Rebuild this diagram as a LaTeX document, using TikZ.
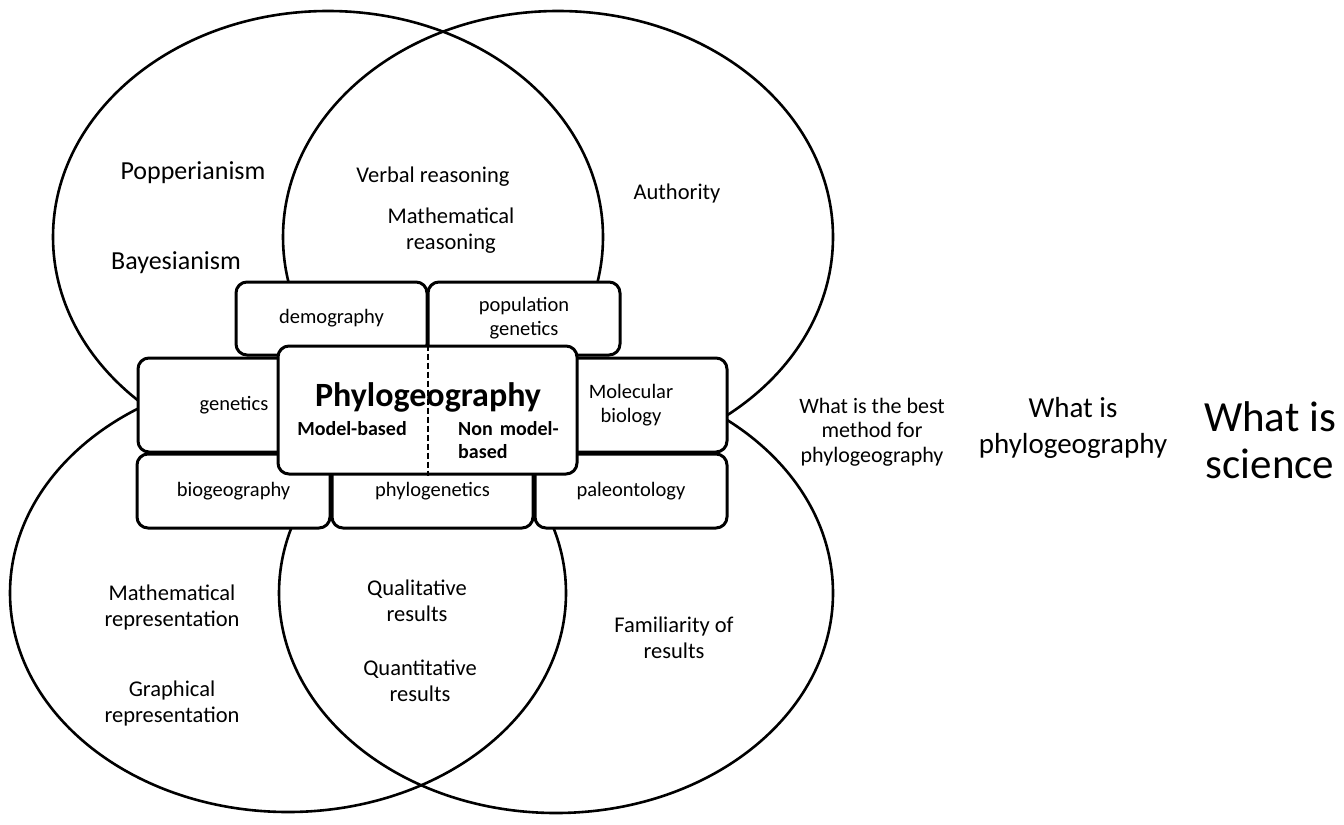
\documentclass[tikz,border=0pt]{standalone}
\usepackage{fontspec}
\setmainfont{Carlito}
\newcommand\fsz[2]{\fontsize{#1bp}{#2bp}\selectfont}
\begin{document}
\begin{tikzpicture}[x=1bp,y=-1bp,
  ell/.style={line width=2.6bp},
  box/.style={draw, line width=3bp, rounded corners=11bp, fill=white, inner sep=0pt, align=center, font=\fsz{20.5}{24}},
  lbl/.style={inner sep=0pt, align=center, font=\fsz{22.5}{26}},
  big/.style={inner sep=0pt, align=center, font=\fsz{26}{30}}]
\useasboundingbox (0,0) rectangle (1344,824);
% ellipses
\draw[ell] (328,237) ellipse [x radius=275, y radius=226];
\draw[ell] (558,237) ellipse [x radius=275, y radius=226];
\draw[ell] (288,593) ellipse [x radius=278, y radius=219];
\draw[ell] (556,593) ellipse [x radius=277, y radius=220];
% ellipse labels
\node[big] (popp) at (193,173) {Popperianism};
\node[big] (baye) at (176,263) {Bayesianism};
\node[lbl] (verb) at (433,177) {Verbal reasoning};
\node[lbl] (math) at (451,231) {Mathematical\\reasoning};
\node[lbl] (auth) at (677,193) {Authority};
\node[lbl] (mrep) at (172,607) {Mathematical\\representation};
\node[lbl] (grep) at (172,703) {Graphical\\representation};
\node[lbl] (qual) at (417,601) {Qualitative\\results};
\node[lbl] (quan) at (420,681) {Quantitative\\results};
\node[lbl] (fami) at (674,638) {Familiarity of\\results};
% boxes
\node[box, minimum width=191bp, minimum height=73bp] (demo) at (331.5,318.5) {demography};
\node[box, minimum width=192bp, minimum height=73bp] (popg) at (524,318.5) {population\\genetics};
\node[box, minimum width=192bp, minimum height=94bp] (gene) at (234,405) {genetics};
\node[box, minimum width=192bp, minimum height=94bp] (molb) at (631,405) {Molecular\\biology};
\node[box, minimum width=193bp, minimum height=74bp] (biog) at (233.5,491) {biogeography};
\node[box, minimum width=201bp, minimum height=74bp] (phyg) at (432.5,491) {phylogenetics};
\node[box, minimum width=192bp, minimum height=74bp] (pale) at (631,491) {paleontology};
\node[box, minimum width=299bp, minimum height=128bp] (phylo) at (427.5,410) {};
\draw[line width=2bp, dash pattern=on 6bp off 3bp] (phylo.north) -- (phylo.south);
\node[inner sep=0pt, font=\fsz{34}{38}\bfseries] (ptitle) at (428,397) {Phylogeography};
\node[inner sep=0pt, font=\fsz{20}{23}\bfseries] (mb) at (352,429) {Model-based};
\node[inner sep=0pt, anchor=west, align=left, font=\fsz{20}{23}\bfseries] (nmb) at (458,440) {Non\hspace{0.35em}model-\\based};
% questions
\node[inner sep=0pt, align=center, font=\fsz{22}{24.5}] (q1) at (872,432) {What is the best\\method for\\phylogeography};
\node[inner sep=0pt, align=center, font=\fsz{29}{36}] (q2) at (1073,428) {What is\\phylogeography};
\node[inner sep=0pt, align=center, font=\fsz{43}{47}] (q3) at (1270,440) {What is\\science};
\end{tikzpicture}
\end{document}
